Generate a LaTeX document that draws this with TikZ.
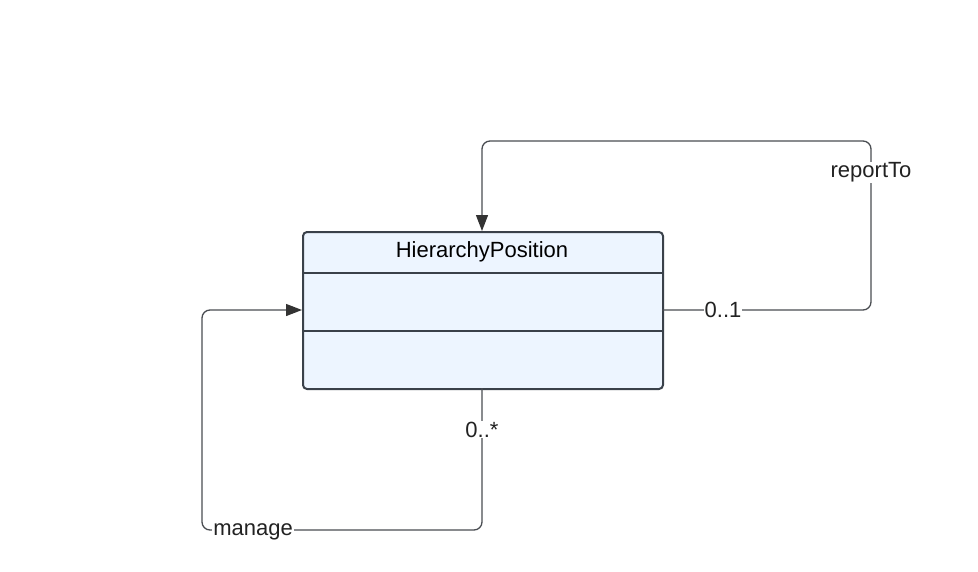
\documentclass[tikz,border=0pt]{standalone}
\usepackage{fontspec}
\setmainfont{Liberation Sans}
\usetikzlibrary{arrows.meta}
\definecolor{boxfill}{HTML}{EDF5FF}
\definecolor{boxline}{HTML}{3A414A}
\definecolor{conn}{HTML}{4A4D52}
\definecolor{tipc}{HTML}{333333}
\definecolor{txt}{HTML}{222222}
\begin{document}
\begin{tikzpicture}[x=1pt,y=-1pt,
  classbox/.style={draw=boxline,fill=boxfill,line width=2pt,rounded corners=4pt},
  conline/.style={draw=conn,line width=1.3pt,rounded corners=8pt},
  tip/.style={-{Triangle[length=16pt,width=12pt,color=tipc]}},
  lbl/.style={fill=white,inner sep=1pt,font=\fontsize{22}{26}\selectfont,text=txt},
  ttl/.style={font=\fontsize{22}{26}\selectfont,text=black}]
\useasboundingbox (0,0) rectangle (978,571);
% class box
\node[classbox,minimum width=360pt,minimum height=157pt,anchor=north west,inner sep=0pt] (cls) at (302,231) {};
\draw[boxline,line width=2pt] (302,273) -- (662,273);
\draw[boxline,line width=2pt] (302,331) -- (662,331);
\node[ttl] (title) at (482,251.5) {HierarchyPosition};
\coordinate (rOut) at (662,310);
\coordinate (rIn) at (482,231);
\coordinate (mOut) at (482,388);
\coordinate (mIn) at (302,310);
% reportTo
\draw[conline,tip] (rOut) -- (871,310) -- (871,141) -- (482,141) -- (rIn);
\node[lbl] (l01) at (723,309.5) {0..1};
\node[lbl] (lrep) at (871,172.5) {reportTo};
% manage
\draw[conline,tip] (mOut) -- (482,530) -- (202,530) -- (202,310) -- (mIn);
\node[lbl] (l0s) at (482,429.5) {0..*};
\node[lbl] (lman) at (253,531.5) {manage};
\end{tikzpicture}
\end{document}
